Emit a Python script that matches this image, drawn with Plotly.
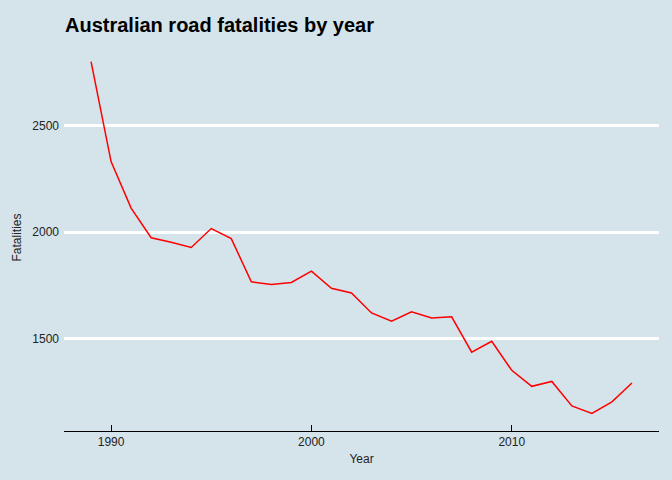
import plotly.graph_objects as go

years = list(range(1989, 2017))
fatalities = [2800, 2331, 2113, 1974, 1953, 1928, 2017, 1970, 1767, 1755,
              1764, 1817, 1737, 1715, 1621, 1583, 1627, 1598, 1603, 1437,
              1488, 1352, 1277, 1300, 1185, 1150, 1204, 1293]

x_ticks = [1990, 2000, 2010]
y_ticks = [1500, 2000, 2500]

BG = "#d5e4eb"
FONT = "Liberation Sans, Arial, sans-serif"

fig = go.Figure()
fig.add_trace(go.Scatter(x=years, y=fatalities, mode="lines",
                         line=dict(color="#ff0000", width=1.5),
                         showlegend=False, hoverinfo="x+y"))

xspan = max(years) - min(years)
yspan = max(fatalities) - min(fatalities)

fig.update_layout(
    width=672, height=480,
    paper_bgcolor=BG, plot_bgcolor=BG,
    margin=dict(l=64, r=13, t=44, b=49),
    font=dict(family=FONT, size=12, color="#222222"),
    title=dict(text="<b>Australian road fatalities by year</b>",
               x=65/672, xanchor="left", xref="container",
               y=1 - 25/480, yanchor="middle", yref="container",
               font=dict(family=FONT, size=20, color="#000000")),
    xaxis=dict(range=[min(years) - 0.05*xspan, max(years) + 0.05*xspan],
               tickvals=x_ticks, ticks="inside", ticklen=6, tickwidth=1,
               tickcolor="#000000", showline=True, linecolor="#000000",
               linewidth=1, showgrid=False, zeroline=False,
               tickfont=dict(size=12, color="#222222"),
               title=dict(text="Year", standoff=6,
                          font=dict(size=12, color="#222222"))),
    yaxis=dict(range=[min(fatalities) - 0.05*yspan, max(fatalities) + 0.05*yspan],
               tickvals=y_ticks, ticks="", showline=False, showgrid=True,
               gridcolor="#ffffff", gridwidth=2.5, zeroline=False,
               ticklabelstandoff=4,
               tickfont=dict(size=12, color="#222222"),
               title=dict(text="Fatalities", standoff=8,
                          font=dict(size=12, color="#222222"))),
)

fig.write_html(
    "out.html",
    config={"displayModeBar": False},
    post_script="document.body.style.margin='0';document.body.style.padding='0';"
                "document.body.style.overflow='hidden';",
)
